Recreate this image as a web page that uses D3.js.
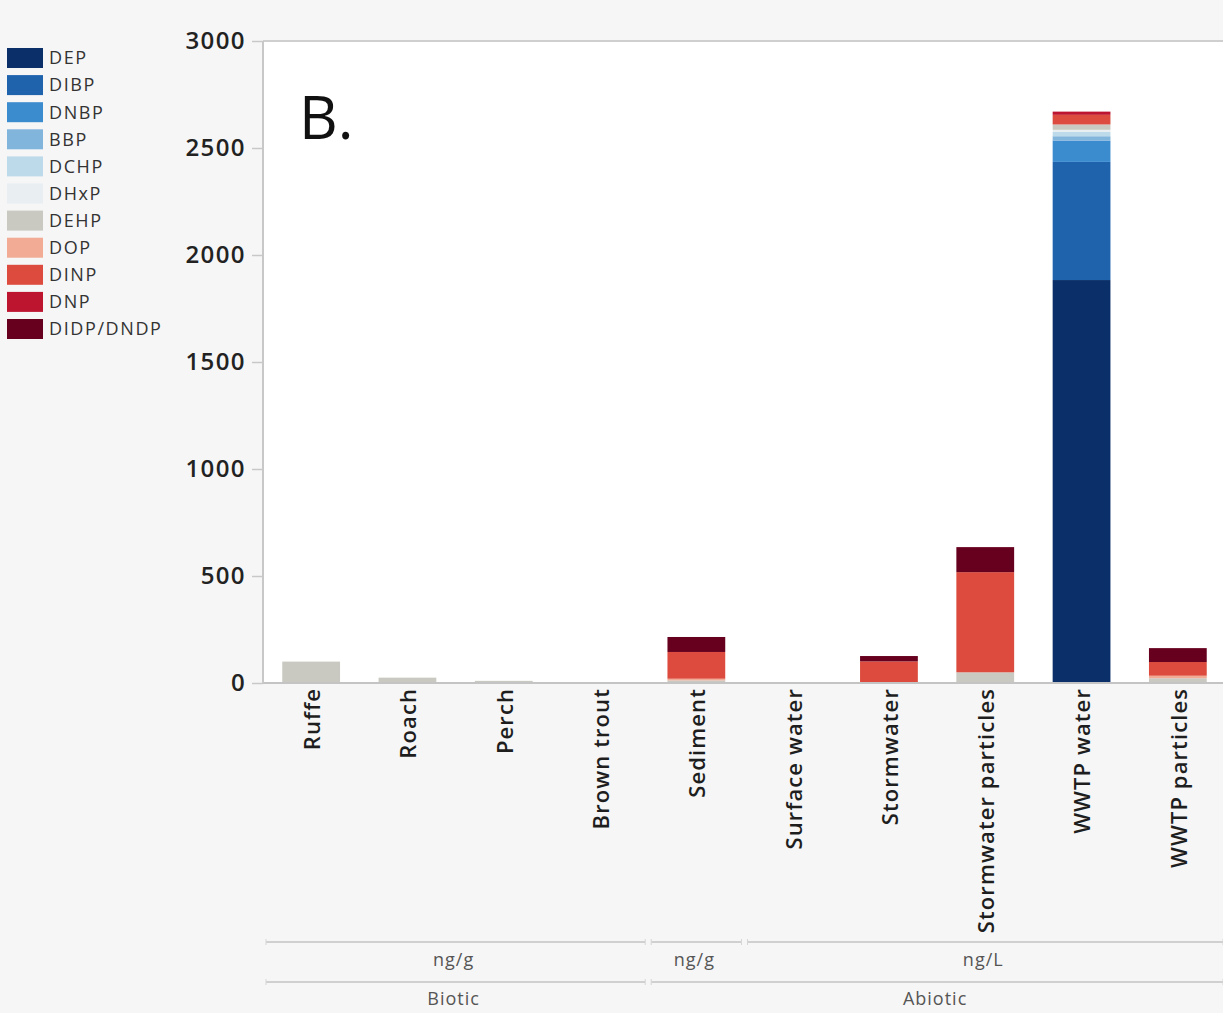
<!DOCTYPE html>
<html>
<head>
<meta charset="utf-8">
<script src="https://cdn.jsdelivr.net/npm/d3@7"></script>
<style>
  html, body { margin: 0; padding: 0; background: #f6f6f6; }
  svg { display: block; font-family: "Open Sans", "Noto Sans", sans-serif; }
</style>
</head>
<body>
<svg id="chart" width="1223" height="1013"></svg>
<script>
// Sample types along the x axis
const categories = ["Ruffe", "Roach", "Perch", "Brown trout", "Sediment", "Surface water",
  "Stormwater", "Stormwater particles", "WWTP water", "WWTP particles"];

// Phthalate compounds, stacked bottom to top
const compounds = ["DEP", "DIBP", "DNBP", "BBP", "DCHP", "DHxP", "DEHP", "DOP", "DINP", "DNP", "DIDP/DNDP"];
const compoundColors = ["#0b2f68", "#1f63ad", "#3b8bcf", "#82b5dc", "#bddaea", "#e8eef1",
  "#c9c9c1", "#f2ab95", "#dc4b3d", "#bd1530", "#67001f"];

// Concentrations per compound, one value per sample type (order of categories)
const DEP       = [0, 0, 0, 0, 0, 0, 0, 0, 1883, 0];
const DIBP      = [0, 0, 0, 0, 0, 0, 0, 0, 552, 0];
const DNBP      = [0, 0, 0, 0, 0, 0, 0, 0, 100, 0];
const BBP       = [0, 0, 0, 0, 0, 0, 0, 0, 20, 0];
const DCHP      = [0, 0, 0, 0, 0, 0, 0, 0, 20, 0];
const DHxP      = [0, 0, 0, 0, 0, 0, 0, 0, 10, 0];
const DEHP      = [100, 25, 10, 2, 12, 1, 4, 50, 25, 22];
const DOP       = [0, 0, 0, 0, 8, 0, 0, 0, 0, 12];
const DINP      = [0, 0, 0, 0, 125, 2, 97, 468, 45, 64];
const DNP       = [0, 0, 0, 0, 0, 0, 0, 0, 15, 0];
const DIDP_DNDP = [0, 0, 0, 0, 70, 0, 25, 117, 0, 65];
const seriesValues = [DEP, DIBP, DNBP, BBP, DCHP, DHxP, DEHP, DOP, DINP, DNP, DIDP_DNDP];

// Axis ticks
const yTicks = [0, 500, 1000, 1500, 2000, 2500, 3000];

// Unit and matrix groupings shown under the category labels (index ranges into categories)
const unitLabels = ["ng/g", "ng/g", "ng/L"];
const unitSpans = [[0, 3], [4, 4], [5, 9]];
const matrixLabels = ["Biotic", "Abiotic"];
const matrixSpans = [[0, 3], [4, 9]];

const panelLabel = "B.";

// Build table rows for d3.stack
const rows = categories.map((c, i) => {
  const r = { category: c };
  compounds.forEach((k, j) => { r[k] = seriesValues[j][i]; });
  return r;
});

const svg = d3.select("#chart");
const plot = { left: 263, top: 41, right: 1226, bottom: 683 };

const x = d3.scaleBand().domain(categories).range([plot.left, plot.right])
  .paddingInner(0.4).paddingOuter(0.2);
const y = d3.scaleLinear().domain([0, 3000]).range([plot.bottom, plot.top]);
const color = d3.scaleOrdinal().domain(compounds).range(compoundColors);

// Plot background
svg.append("rect")
  .attr("x", plot.left).attr("y", plot.top)
  .attr("width", 1223 - plot.left).attr("height", plot.bottom - plot.top)
  .attr("fill", "#ffffff");

// Stacked bars
const stacked = d3.stack().keys(compounds)(rows);
svg.append("g").selectAll("g").data(stacked).join("g")
  .attr("fill", d => color(d.key))
  .selectAll("rect").data(d => d).join("rect")
  .attr("x", d => x(d.data.category))
  .attr("width", x.bandwidth())
  .attr("y", d => y(d[1]))
  .attr("height", d => Math.max(0, y(d[0]) - y(d[1])));

// Frame lines: top border and baseline
svg.append("line").attr("x1", plot.left).attr("x2", 1223)
  .attr("y1", plot.top).attr("y2", plot.top)
  .attr("stroke", "#cfcfcf").attr("stroke-width", 2);
svg.append("line").attr("x1", plot.left).attr("x2", 1223)
  .attr("y1", plot.bottom).attr("y2", plot.bottom)
  .attr("stroke", "#c4c4c4").attr("stroke-width", 2);

// Y axis
const yAxis = svg.append("g")
  .attr("transform", `translate(${plot.left},0)`)
  .call(d3.axisLeft(y).tickValues(yTicks).tickSize(11).tickPadding(6).tickFormat(d3.format("d")));
yAxis.select(".domain").attr("stroke", "#c8c8c8").attr("stroke-width", 2)
  .attr("d", `M0,${plot.top}V${plot.bottom}`);
yAxis.selectAll(".tick line").attr("stroke", "#c8c8c8").attr("stroke-width", 1.5);
yAxis.selectAll(".tick text")
  .attr("fill", "#222").attr("font-size", 24).attr("font-weight", 600)
  .attr("letter-spacing", 1.4)
  .attr("font-family", "\"Open Sans\", sans-serif");

// Category labels (rotated)
svg.append("g").selectAll("text").data(categories).join("text")
  .attr("transform", d => `translate(${x(d) + x.bandwidth() / 2 + 1},${plot.bottom + 5}) rotate(-90)`)
  .attr("text-anchor", "end")
  .attr("dy", "0.36em")
  .attr("font-size", 22)
  .attr("font-weight", 600)
  .attr("letter-spacing", 1.1)
  .attr("fill", "#1e1e1e")
  .text(d => d);

// Grouping rows under the axis
const step = x.step();
const half = step * x.paddingInner() / 2;
function drawGroups(labels, spans, lineY, textY) {
  const g = svg.append("g");
  spans.forEach((s, i) => {
    const x0 = x(categories[s[0]]) - half + 3;
    const x1 = Math.min(1223, x(categories[s[1]]) + x.bandwidth() + half - 3);
    g.append("line").attr("x1", x0).attr("x2", x1).attr("y1", lineY).attr("y2", lineY)
      .attr("stroke", "#d0d0d0").attr("stroke-width", 2.2);
    [x0, x1].forEach(xx => g.append("line")
      .attr("x1", xx).attr("x2", xx).attr("y1", lineY - 3).attr("y2", lineY + 3)
      .attr("stroke", "#d6d6d6").attr("stroke-width", 1));
    g.append("text")
      .attr("x", (x(categories[s[0]]) + x(categories[s[1]]) + x.bandwidth()) / 2 - 2)
      .attr("y", textY)
      .attr("text-anchor", "middle")
      .attr("font-size", 18)
      .attr("letter-spacing", 1)
      .attr("fill", "#555")
      .text(labels[i]);
  });
}
drawGroups(unitLabels, unitSpans, 942, 966);
drawGroups(matrixLabels, matrixSpans, 982, 1005);

// Panel letter
svg.append("text")
  .attr("x", 299).attr("y", 139)
  .attr("font-size", 60)
  .attr("fill", "#111")
  .text(panelLabel);

// Legend
const legend = svg.append("g").attr("transform", "translate(7,48)");
const legendRow = 27.1;
compounds.forEach((k, i) => {
  const g = legend.append("g").attr("transform", `translate(0,${i * legendRow})`);
  g.append("rect").attr("width", 36).attr("height", 20).attr("fill", color(k));
  g.append("text").attr("x", 42).attr("y", 10).attr("dy", "0.35em")
    .attr("font-size", 18).attr("letter-spacing", 1.6).attr("fill", "#333").text(k);
});
</script>
</body>
</html>
